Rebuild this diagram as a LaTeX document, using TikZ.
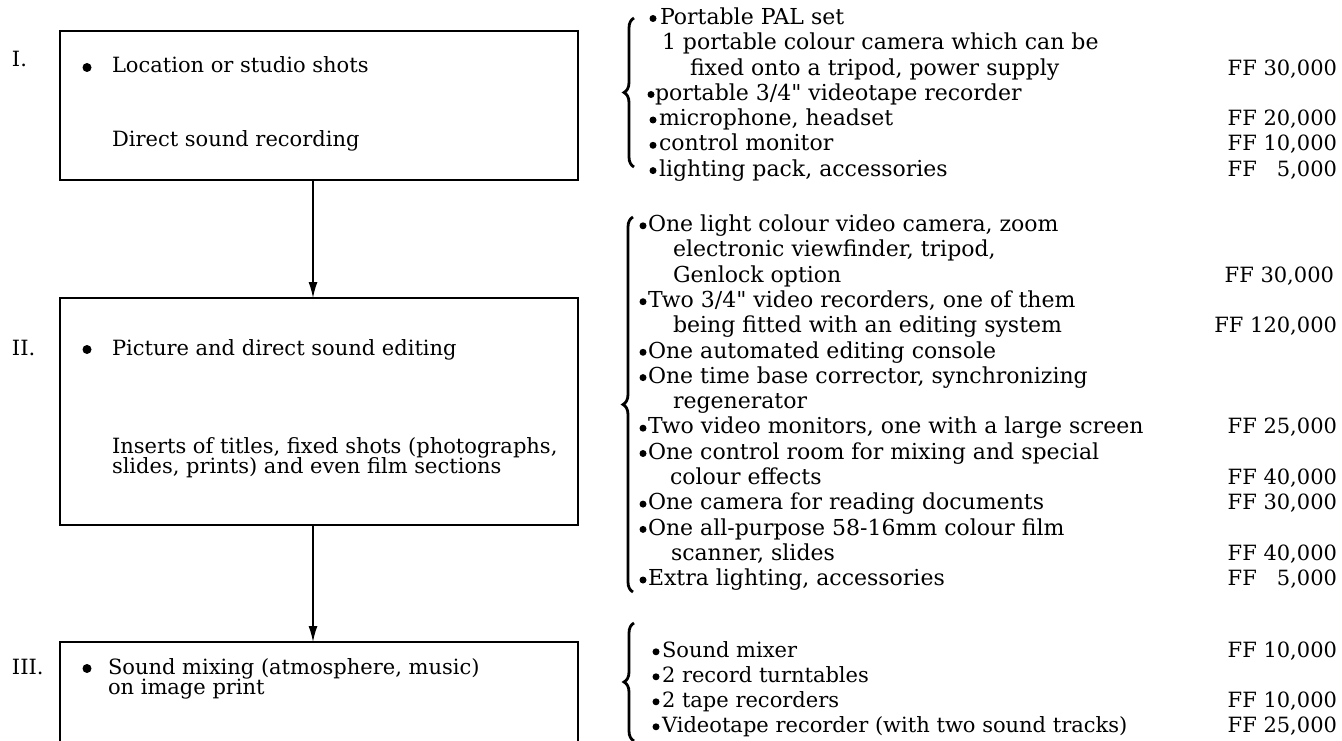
\documentclass[tikz,border=0pt]{standalone}
\usepackage{fontspec}
\setmainfont{DejaVu Serif}
\usetikzlibrary{arrows.meta,decorations.pathreplacing}
\begin{document}
\begin{tikzpicture}[x=1pt,y=-1pt,
  every node/.style={inner sep=0pt,outer sep=0pt},
  txt/.style={anchor=base west,font=\fontsize{21}{25}\selectfont},
  rtxt/.style={anchor=base west,font=\fontsize{22}{25}\selectfont},
  price/.style={anchor=base east,font=\fontsize{21}{25}\selectfont},
  stagebox/.style={draw,line width=1.4pt,rectangle,minimum width=518pt},
  conn/.style={line width=1.4pt,-{Latex[length=16pt,width=9pt]}},
  brc/.style={decorate,decoration={brace,amplitude=10pt},line width=2.8pt},
  bigdot/.style={radius=4.5pt},
  smalldot/.style={radius=3.5pt}]
\useasboundingbox (0,0) rectangle (1342,741);
\clip (0,0) rectangle (1342,741);

% stage boxes
\node[stagebox,minimum height=149pt] (b1) at (319,105.5) {};
\node[stagebox,minimum height=227pt] (b2) at (319,411.5) {};
\node[stagebox,minimum height=160pt] (b3) at (319,722) {};
\draw[conn] ([xshift=-6pt]b1.south) -- ([xshift=-6pt]b2.north);
\draw[conn] ([xshift=-6pt]b2.south) -- ([xshift=-6pt]b3.north);

% left labels
\node[txt] (n1) at (12,67) {I.};
\fill (87,67.5) circle[bigdot];
\node[txt] (t1a) at (112,73) {Location or studio shots};
\node[txt] (t1b) at (112,147) {Direct sound recording};

\node[txt] (n2) at (12,355) {II.};
\fill (87,349.5) circle[bigdot];
\node[txt] (t2a) at (112,355) {Picture and direct sound editing};
\node[txt] (t2b) at (112,453) {Inserts of titles, fixed shots (photographs,};
\node[txt] (t2c) at (112,473) {slides, prints) and even film sections};

\node[txt] (n3) at (12,674) {III.};
\fill (87,668.5) circle[bigdot];
\node[txt] (t3a) at (108,674) {Sound mixing (atmosphere, music)};
\node[txt] (t3b) at (108,694) {on image print};

% braces
\draw[brc] (634,167) -- (634,18);
\draw[brc] (633,592) -- (633,217);
\draw[brc] (634,741) -- (634,623);

% group I
\fill (653,18.5) circle[smalldot];
\node[rtxt] (a0) at (660,24.5) {Portable PAL set};
\node[rtxt] (a1) at (662,49.8) {1 portable colour camera which can be};
\node[rtxt] (a2) at (690,75.1) {fixed onto a tripod, power supply};
\fill (651,94.5) circle[smalldot];
\node[rtxt] (a3) at (655,100.4) {portable 3/4\textquotedbl{} videotape recorder};
\fill (653,120) circle[smalldot];
\node[rtxt] (a4) at (659,125.7) {microphone, headset};
\fill (653,145.3) circle[smalldot];
\node[rtxt] (a5) at (659,151) {control monitor};
\fill (653,170.6) circle[smalldot];
\node[rtxt] (a6) at (659,176.3) {lighting pack, accessories};
\node[price] (pa2) at (1337,75.1) {FF 30,000};
\node[price] (pa4) at (1337,125.7) {FF 20,000};
\node[price] (pa5) at (1337,151) {FF 10,000};
\node[price] (pa6) at (1337,176.3) {FF\hphantom{0} 5,000};

% group II
\fill (643,225.8) circle[smalldot];
\node[rtxt] (c0) at (648,231.5) {One light colour video camera, zoom};
\node[rtxt] (c1) at (673,256.8) {electronic viewfinder, tripod,};
\node[rtxt] (c2) at (673,282.1) {Genlock option};
\fill (643,301.7) circle[smalldot];
\node[rtxt] (c3) at (648,307.4) {Two 3/4\textquotedbl{} video recorders, one of them};
\node[rtxt] (c4) at (673,332.7) {being fitted with an editing system};
\fill (643,352.3) circle[smalldot];
\node[rtxt] (c5) at (648,358) {One automated editing console};
\fill (643,377.6) circle[smalldot];
\node[rtxt] (c6) at (648,383.3) {One time base corrector, synchronizing};
\node[rtxt] (c7) at (673,408.6) {regenerator};
\fill (643,428.2) circle[smalldot];
\node[rtxt] (c8) at (648,433.9) {Two video monitors, one with a large screen};
\fill (643,453.5) circle[smalldot];
\node[rtxt] (c9) at (648,459.2) {One control room for mixing and special};
\node[rtxt] (c10) at (670,484.5) {colour effects};
\fill (643,504.1) circle[smalldot];
\node[rtxt] (c11) at (648,509.8) {One camera for reading documents};
\fill (643,529.4) circle[smalldot];
\node[rtxt] (c12) at (648,535.1) {One all-purpose 58-16mm colour film};
\node[rtxt] (c13) at (671,560.4) {scanner, slides};
\fill (643,580) circle[smalldot];
\node[rtxt] (c14) at (648,585.7) {Extra lighting, accessories};
\node[price] (pc2) at (1334,282.1) {FF 30,000};
\node[price] (pc4) at (1337,332.7) {FF 120,000};
\node[price] (pc8) at (1337,433.9) {FF 25,000};
\node[price] (pc10) at (1337,484.5) {FF 40,000};
\node[price] (pc11) at (1337,509.8) {FF 30,000};
\node[price] (pc13) at (1337,560.4) {FF 40,000};
\node[price] (pc14) at (1337,585.7) {FF\hphantom{0} 5,000};

% group III
\fill (656,651.8) circle[smalldot];
\node[txt] (e0) at (662,657.5) {Sound mixer};
\fill (656,676.8) circle[smalldot];
\node[txt] (e1) at (662,682.5) {2 record turntables};
\fill (656,701.8) circle[smalldot];
\node[txt] (e2) at (662,707.5) {2 tape recorders};
\fill (656,726.8) circle[smalldot];
\node[txt] (e3) at (662,732.5) {Videotape recorder (with two sound tracks)};
\node[price] (pe0) at (1337,657.5) {FF 10,000};
\node[price] (pe2) at (1337,707.5) {FF 10,000};
\node[price] (pe3) at (1337,732.5) {FF 25,000};
\end{tikzpicture}
\end{document}
